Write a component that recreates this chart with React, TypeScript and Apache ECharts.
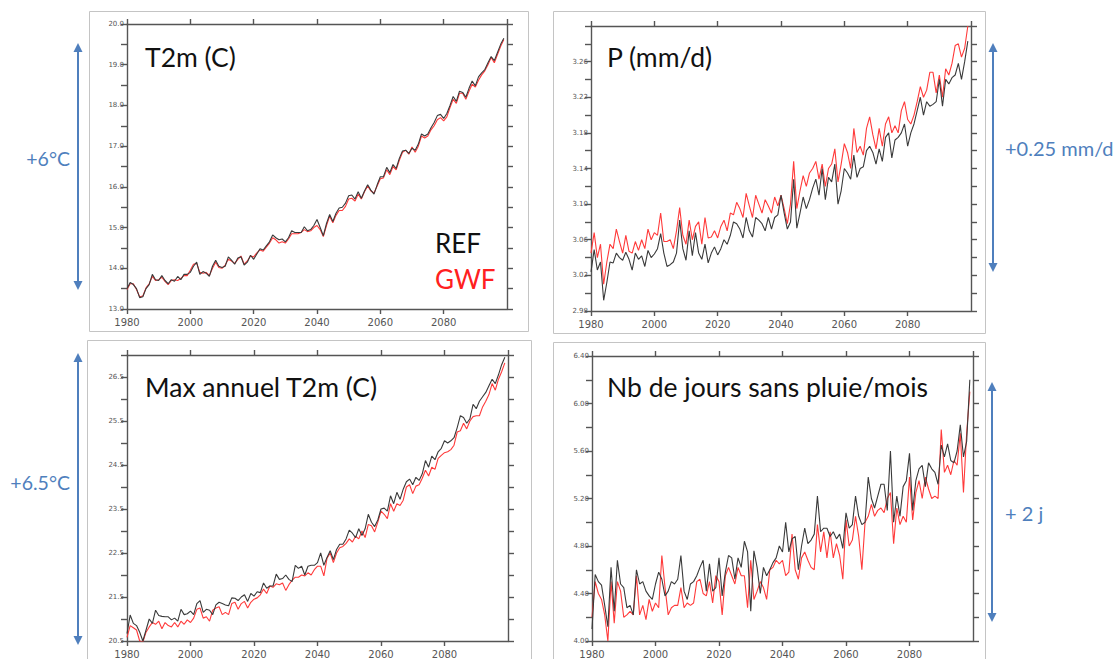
import React, { useEffect, useRef } from "react";
import * as echarts from "echarts";

const START_YEAR = 1980;

const T2M_REF = [
  13.50, 13.65, 13.60, 13.50, 13.28, 13.30, 13.50, 13.60, 13.85, 13.72,
  13.70, 13.82, 13.70, 13.62, 13.72, 13.68, 13.80, 13.72, 13.85, 13.85,
  13.90, 14.05, 14.15, 13.85, 13.92, 13.88, 13.80, 14.05, 14.20, 14.05,
  14.02, 14.05, 14.28, 14.20, 14.10, 14.25, 14.28, 14.08, 14.15, 14.32,
  14.22, 14.35, 14.48, 14.45, 14.55, 14.65, 14.82, 14.75, 14.70, 14.72,
  14.65, 14.75, 14.92, 14.88, 14.88, 14.88, 15.02, 14.92, 14.95, 15.05,
  15.20, 15.00, 14.80, 15.10, 15.32, 15.15, 15.35, 15.48, 15.50, 15.60,
  15.78, 15.80, 15.70, 15.88, 15.72, 15.90, 16.05, 15.92, 15.82, 16.05,
  16.25, 16.25, 16.48, 16.35, 16.55, 16.45, 16.70, 16.88, 16.90, 16.82,
  16.95, 16.90, 17.05, 17.30, 17.25, 17.30, 17.45, 17.58, 17.75, 17.78,
  17.68, 17.80, 18.00, 18.22, 18.10, 18.35, 18.32, 18.20, 18.42, 18.60,
  18.48, 18.70, 18.80, 18.88, 19.05, 19.20, 19.10, 19.30, 19.50, 19.65,
];
const T2M_GWF = [
  13.48, 13.62, 13.62, 13.48, 13.30, 13.32, 13.52, 13.62, 13.80, 13.70,
  13.72, 13.78, 13.68, 13.60, 13.70, 13.72, 13.70, 13.75, 13.82, 13.82,
  13.95, 14.10, 14.12, 13.90, 13.88, 13.90, 13.82, 14.00, 14.15, 14.02,
  14.00, 14.08, 14.22, 14.18, 14.12, 14.22, 14.30, 14.10, 14.18, 14.30,
  14.28, 14.38, 14.45, 14.42, 14.52, 14.62, 14.75, 14.70, 14.62, 14.65,
  14.62, 14.72, 14.85, 14.85, 14.85, 14.88, 14.95, 14.90, 14.92, 15.00,
  15.05, 14.95, 14.78, 15.05, 15.28, 15.12, 15.30, 15.42, 15.42, 15.52,
  15.70, 15.72, 15.65, 15.82, 15.70, 15.88, 16.02, 15.90, 15.85, 16.02,
  16.20, 16.22, 16.42, 16.30, 16.50, 16.42, 16.65, 16.85, 16.90, 16.80,
  16.98, 16.85, 17.00, 17.25, 17.20, 17.25, 17.40, 17.50, 17.65, 17.70,
  17.62, 17.72, 17.95, 18.15, 18.05, 18.30, 18.30, 18.15, 18.35, 18.52,
  18.45, 18.62, 18.75, 18.85, 19.00, 19.18, 19.05, 19.25, 19.45, 19.62,
];

const P_REF = [
  3.024, 3.049, 3.026, 3.035, 2.992, 3.012, 3.035, 3.034, 3.045, 3.040,
  3.037, 3.046, 3.038, 3.026, 3.045, 3.038, 3.042, 3.030, 3.048, 3.040,
  3.044, 3.050, 3.067, 3.045, 3.030, 3.032, 3.035, 3.045, 3.082, 3.050,
  3.037, 3.070, 3.042, 3.068, 3.045, 3.038, 3.055, 3.034, 3.045, 3.052,
  3.043, 3.050, 3.060, 3.055, 3.065, 3.080, 3.078, 3.072, 3.062, 3.085,
  3.070, 3.063, 3.085, 3.082, 3.078, 3.070, 3.085, 3.072, 3.085, 3.088,
  3.110, 3.090, 3.072, 3.080, 3.128, 3.073, 3.090, 3.108, 3.095, 3.105,
  3.118, 3.128, 3.110, 3.140, 3.105, 3.130, 3.125, 3.145, 3.100, 3.115,
  3.140, 3.135, 3.128, 3.155, 3.130, 3.140, 3.142, 3.160, 3.165, 3.158,
  3.145, 3.162, 3.148, 3.175, 3.180, 3.152, 3.172, 3.175, 3.180, 3.190,
  3.165, 3.180, 3.190, 3.205, 3.220, 3.200, 3.215, 3.210, 3.212, 3.215,
  3.240, 3.210, 3.240, 3.235, 3.242, 3.245, 3.258, 3.240, 3.260, 3.283,
];
const P_GWF = [
  3.045, 3.068, 3.040, 3.055, 3.010, 3.035, 3.055, 3.050, 3.072, 3.058,
  3.045, 3.065, 3.047, 3.045, 3.058, 3.048, 3.060, 3.050, 3.072, 3.060,
  3.068, 3.065, 3.090, 3.058, 3.058, 3.060, 3.050, 3.070, 3.096, 3.065,
  3.055, 3.082, 3.060, 3.075, 3.080, 3.055, 3.085, 3.062, 3.063, 3.070,
  3.062, 3.075, 3.082, 3.070, 3.090, 3.088, 3.102, 3.095, 3.085, 3.112,
  3.098, 3.085, 3.110, 3.100, 3.090, 3.105, 3.098, 3.090, 3.108, 3.098,
  3.110, 3.095, 3.078, 3.100, 3.148, 3.095, 3.115, 3.132, 3.120, 3.135,
  3.140, 3.148, 3.128, 3.145, 3.120, 3.140, 3.145, 3.162, 3.125, 3.145,
  3.168, 3.158, 3.140, 3.185, 3.158, 3.165, 3.155, 3.185, 3.198, 3.178,
  3.162, 3.185, 3.165, 3.190, 3.198, 3.180, 3.188, 3.180, 3.205, 3.215,
  3.195, 3.190, 3.200, 3.215, 3.232, 3.220, 3.228, 3.248, 3.248, 3.225,
  3.245, 3.220, 3.252, 3.245, 3.258, 3.278, 3.280, 3.265, 3.275, 3.300,
];

const TX_REF = [
  20.67, 21.09, 20.90, 20.85, 20.70, 20.50, 20.75, 21.00, 20.90, 21.20,
  21.08, 21.06, 21.05, 21.05, 20.98, 21.02, 20.95, 21.22, 21.10, 21.12,
  21.18, 21.10, 21.35, 21.42, 21.15, 21.22, 21.20, 21.10, 21.32, 21.38,
  21.35, 21.32, 21.30, 21.48, 21.47, 21.42, 21.50, 21.55, 21.40, 21.58,
  21.52, 21.62, 21.60, 21.82, 21.70, 21.75, 21.75, 22.02, 21.90, 21.92,
  22.00, 21.90, 21.85, 22.22, 22.15, 22.20, 22.00, 22.20, 22.22, 22.22,
  22.28, 22.50, 22.22, 22.40, 22.55, 22.35, 22.58, 22.70, 22.70, 22.82,
  23.02, 22.95, 22.85, 23.05, 22.90, 23.05, 23.38, 23.20, 23.10, 23.25,
  23.50, 23.52, 23.45, 23.80, 23.62, 23.88, 23.72, 23.95, 24.12, 24.18,
  24.05, 24.22, 24.15, 24.30, 24.60, 24.45, 24.70, 24.62, 24.80, 24.88,
  25.05, 25.00, 25.05, 25.12, 25.35, 25.62, 25.58, 25.45, 25.55, 25.88,
  25.78, 25.95, 26.05, 26.15, 26.30, 26.45, 26.35, 26.55, 26.78, 26.95,
];
const TX_GWF = [
  20.58, 20.85, 20.80, 20.75, 20.50, 20.48, 20.70, 20.82, 20.92, 20.88,
  20.95, 20.78, 20.92, 20.85, 20.82, 20.92, 20.82, 20.95, 20.88, 20.98,
  20.92, 21.02, 21.22, 21.25, 21.02, 21.05, 20.95, 21.20, 21.25, 21.28,
  21.10, 21.15, 21.10, 21.35, 21.38, 21.22, 21.35, 21.40, 21.25, 21.38,
  21.45, 21.48, 21.55, 21.68, 21.58, 21.75, 21.72, 21.80, 21.78, 21.82,
  21.65, 21.78, 21.88, 21.95, 21.95, 22.00, 21.98, 22.05, 22.00, 22.12,
  22.20, 22.20, 21.98, 22.38, 22.50, 22.28, 22.50, 22.62, 22.65, 22.72,
  22.82, 22.75, 22.88, 22.82, 23.00, 22.85, 23.15, 23.12, 22.98, 23.20,
  23.45, 23.38, 23.28, 23.62, 23.45, 23.62, 23.58, 23.70, 24.00, 24.05,
  23.85, 24.02, 24.05, 24.20, 24.38, 24.25, 24.45, 24.40, 24.65, 24.72,
  24.78, 24.80, 24.85, 24.95, 25.25, 25.28, 25.45, 25.32, 25.50, 25.60,
  25.62, 25.62, 25.82, 25.95, 26.10, 26.35, 26.20, 26.45, 26.62, 26.82,
];

const NJ_REF = [
  4.10, 4.56, 4.50, 4.47, 4.30, 4.12, 4.62, 4.25, 4.68, 4.48,
  4.45, 4.28, 4.30, 4.22, 4.60, 4.48, 4.50, 4.42, 4.38, 4.35,
  4.48, 4.58, 4.52, 4.38, 4.42, 4.50, 4.48, 4.52, 4.72, 4.42,
  4.35, 4.48, 4.50, 4.55, 4.62, 4.68, 4.42, 4.65, 4.42, 4.45,
  4.70, 4.38, 4.58, 4.72, 4.70, 4.52, 4.70, 4.62, 4.84, 4.75,
  4.25, 4.76, 4.62, 4.40, 4.62, 4.55, 4.60, 4.66, 4.70, 4.80,
  4.75, 5.00, 4.75, 4.86, 4.88, 4.60, 4.80, 4.95, 4.82, 4.85,
  4.90, 5.22, 4.92, 4.95, 4.95, 4.88, 4.92, 4.86, 4.90, 4.78,
  5.08, 4.95, 4.98, 5.22, 5.05, 4.98, 5.00, 5.38, 5.20, 5.12,
  5.22, 5.32, 5.32, 5.10, 5.60, 5.00, 5.22, 5.05, 5.30, 5.35,
  5.58, 5.10, 5.35, 5.45, 5.48, 5.30, 5.50, 5.45, 5.42, 5.32,
  5.65, 5.55, 5.66, 5.52, 5.50, 5.60, 5.82, 5.55, 5.68, 6.20,
];
const NJ_GWF = [
  4.20, 4.50, 4.40, 4.35, 4.22, 4.00, 4.50, 4.15, 4.50, 4.42,
  4.20, 4.22, 4.25, 4.22, 4.55, 4.22, 4.30, 4.18, 4.35, 4.25,
  4.32, 4.28, 4.72, 4.45, 4.22, 4.28, 4.30, 4.30, 4.45, 4.28,
  4.32, 4.30, 4.32, 4.50, 4.52, 4.40, 4.38, 4.50, 4.32, 4.55,
  4.50, 4.22, 4.55, 4.62, 4.55, 4.48, 4.62, 4.55, 4.55, 4.28,
  4.68, 4.35, 4.42, 4.50, 4.45, 4.35, 4.60, 4.62, 4.68, 4.65,
  4.68, 4.55, 4.58, 4.90, 4.60, 4.52, 4.70, 4.75, 4.68, 4.62,
  4.60, 4.98, 4.75, 4.92, 4.70, 4.92, 4.70, 4.82, 4.72, 4.52,
  5.02, 4.80, 4.85, 5.05, 4.88, 4.60, 5.00, 5.05, 5.15, 5.05,
  5.10, 5.12, 5.08, 5.20, 5.25, 4.82, 5.12, 4.98, 5.05, 5.00,
  5.38, 5.02, 5.25, 5.35, 5.20, 5.38, 5.28, 5.20, 5.22, 5.20,
  5.78, 5.42, 5.48, 5.40, 5.52, 5.48, 5.75, 5.25, 5.75, 6.10,
];

const X_TICK_YEARS = [1980, 2000, 2020, 2040, 2060, 2080];

const AXIS_COLOR = "#555555";
const REF_COLOR = "#3a3a3a";
const GWF_COLOR = "#ff3a3a";
const BLUE = "#4f7fbd";
const TITLE_FONT = "Lato, 'Open Sans', sans-serif";

function pairs(vals: number[]) {
  return vals.map((v, i) => [START_YEAR + i, v]);
}

type PanelCfg = {
  min: number;
  max: number;
  interval: number;
  labelEvery: number;
  digits: number;
  showTop: boolean;
  grid: { left: number; top: number; width: number; height: number };
  ref: number[];
  gwf: number[];
};

const PANELS: PanelCfg[] = [
  { min: 13, max: 20, interval: 0.5, labelEvery: 2, digits: 1, showTop: true,
    grid: { left: 127, top: 24, width: 380, height: 285 }, ref: T2M_REF, gwf: T2M_GWF },
  { min: 2.98, max: 3.3, interval: 0.02, labelEvery: 2, digits: 2, showTop: false,
    grid: { left: 591, top: 26, width: 380, height: 285 }, ref: P_REF, gwf: P_GWF },
  { min: 20.5, max: 27, interval: 0.5, labelEvery: 2, digits: 1, showTop: false,
    grid: { left: 127, top: 355, width: 381, height: 286 }, ref: TX_REF, gwf: TX_GWF },
  { min: 4.0, max: 6.4, interval: 0.2, labelEvery: 2, digits: 2, showTop: true,
    grid: { left: 592, top: 356, width: 381, height: 286 }, ref: NJ_REF, gwf: NJ_GWF },
];

function arrow(x: number, y1: number, y2: number) {
  const hw = 4.5;
  const hh = 9;
  return [
    { type: "line", shape: { x1: x, y1: y1 + hh - 1, x2: x, y2: y2 - hh + 1 },
      style: { stroke: BLUE, lineWidth: 2 } },
    { type: "polygon", shape: { points: [[x, y1], [x - hw, y1 + hh], [x + hw, y1 + hh]] },
      style: { fill: BLUE } },
    { type: "polygon", shape: { points: [[x, y2], [x - hw, y2 - hh], [x + hw, y2 - hh]] },
      style: { fill: BLUE } },
  ];
}

function txt(text: string, x: number, y: number, size: number, fill: string, align = "left") {
  return {
    type: "text",
    x, y,
    style: { text, fill, font: `${size}px ${TITLE_FONT}`, align, verticalAlign: "middle" },
  };
}

export default function App() {
  const ref = useRef<HTMLDivElement>(null);
  useEffect(() => {
    if (!ref.current) return;
    const chart = echarts.init(ref.current, null, { renderer: "svg" });
    const lineStyle = { color: AXIS_COLOR, width: 1.4 };
    const grids: any[] = [];
    const xAxes: any[] = [];
    const yAxes: any[] = [];
    const series: any[] = [];
    PANELS.forEach((p, i) => {
      grids.push({ ...p.grid, containLabel: false });
      xAxes.push({
        type: "value", gridIndex: i, min: 1980, max: 2100, interval: 20, position: "bottom",
        axisLine: { show: true, onZero: false, lineStyle },
        axisTick: { show: true, length: 5, lineStyle },
        axisLabel: {
          show: true, fontSize: 10, color: "#555", margin: 8, fontFamily: "'DejaVu Sans', sans-serif",
          showMinLabel: true, showMaxLabel: false,
          formatter: (v: number) => (X_TICK_YEARS.includes(Math.round(v)) ? String(Math.round(v)) : ""),
        },
        splitLine: { show: false },
      });
      xAxes.push({
        type: "value", gridIndex: i, min: 1980, max: 2100, interval: 20, position: "top",
        axisLine: { show: true, onZero: false, lineStyle },
        axisTick: { show: true, length: 5, lineStyle },
        axisLabel: { show: false },
        splitLine: { show: false },
      });
      yAxes.push({
        type: "value", gridIndex: i, min: p.min, max: p.max, interval: p.interval, position: "left",
        axisLine: { show: true, onZero: false, lineStyle },
        axisTick: { show: true, length: 6, lineStyle },
        axisLabel: {
          show: true, fontSize: 7, color: "#555", margin: 3, fontFamily: "'DejaVu Sans', sans-serif",
          showMinLabel: true, showMaxLabel: true,
          formatter: (v: number) => {
            const k = Math.round((v - p.min) / p.interval);
            if (k % p.labelEvery !== 0) return "";
            if (Math.abs(v - p.max) < 1e-9 && !p.showTop) return "";
            return v.toFixed(p.digits);
          },
        },
        splitLine: { show: false },
      });
      yAxes.push({
        type: "value", gridIndex: i, min: p.min, max: p.max, interval: p.interval, position: "right",
        axisLine: { show: true, onZero: false, lineStyle },
        axisTick: { show: true, length: 6, lineStyle },
        axisLabel: { show: false },
        splitLine: { show: false },
      });
      series.push({
        type: "line", name: "GWF", xAxisIndex: i * 2, yAxisIndex: i * 2, data: pairs(p.gwf),
        showSymbol: false, symbol: "none", lineStyle: { color: GWF_COLOR, width: 1.1 }, z: 3,
      });
      series.push({
        type: "line", name: "REF", xAxisIndex: i * 2, yAxisIndex: i * 2, data: pairs(p.ref),
        showSymbol: false, symbol: "none", lineStyle: { color: REF_COLOR, width: 1.1 }, z: 4,
      });
    });

    const frameStyle = { fill: "none", stroke: "#c4c4c4", lineWidth: 1 };
    const graphic: any[] = [
      { type: "rect", shape: { x: 89.5, y: 11.5, width: 439, height: 320 }, style: frameStyle, z: -1 },
      { type: "rect", shape: { x: 553.5, y: 11.5, width: 432, height: 322 }, style: frameStyle, z: -1 },
      { type: "rect", shape: { x: 87.5, y: 340.5, width: 444, height: 400 }, style: frameStyle, z: -1 },
      { type: "rect", shape: { x: 553.5, y: 342.5, width: 432, height: 400 }, style: frameStyle, z: -1 },
      txt("T2m (C)", 145, 57, 26.5, "#111"),
      txt("P (mm/d)", 607, 57, 26.5, "#111"),
      txt("Max annuel T2m (C)", 145, 387, 26.5, "#111"),
      txt("Nb de jours sans pluie/mois", 607, 387, 26.5, "#111"),
      txt("REF", 435, 243, 26, "#111"),
      txt("GWF", 435, 279, 26, "#ff2020"),
      ...arrow(78, 43, 290),
      ...arrow(993, 43, 272),
      ...arrow(78, 353, 645),
      ...arrow(992, 382, 622),
      txt("+6°C", 70, 158, 19.5, BLUE, "right"),
      txt("+6.5°C", 70, 482, 19.5, BLUE, "right"),
      txt("+0.25 mm/d", 1005, 148, 20, BLUE),
      txt("+ 2 j", 1005, 513, 20, BLUE),
    ];

    chart.setOption({
      animation: false,
      backgroundColor: "#ffffff",
      grid: grids,
      xAxis: xAxes,
      yAxis: yAxes,
      series,
      graphic,
    });
    return () => chart.dispose();
  }, []);
  return (
    <div
      ref={ref}
      style={{ position: "fixed", left: 0, top: 0, width: 1116, height: 659, background: "#fff" }}
    />
  );
}
